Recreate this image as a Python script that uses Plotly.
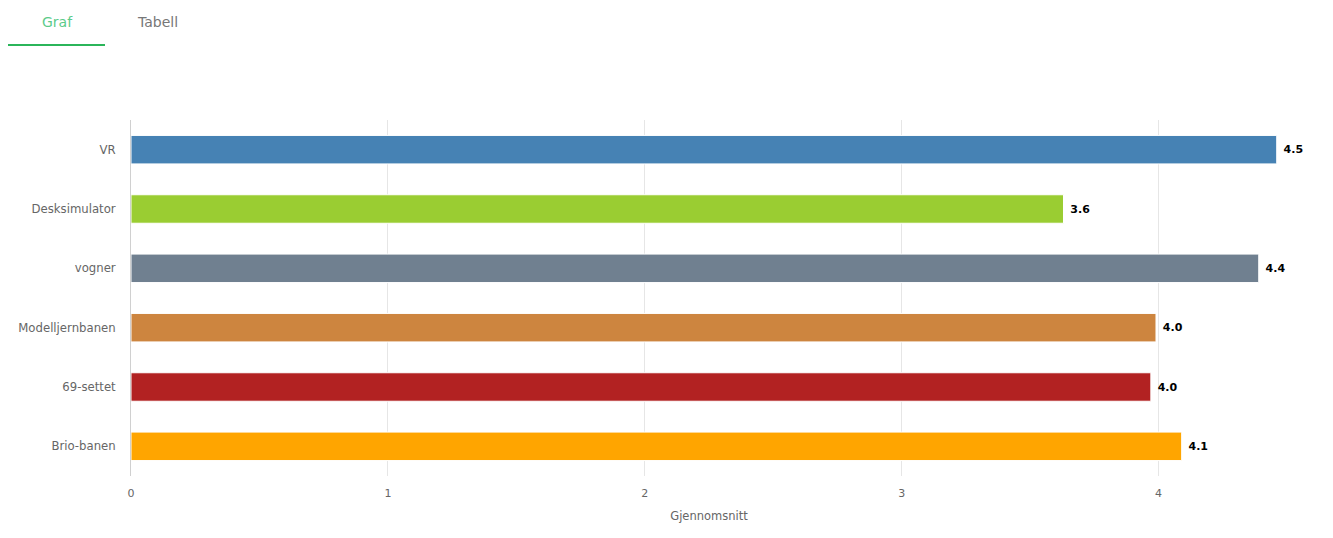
import plotly.graph_objects as go

categories = ["VR", "Desksimulator", "vogner", "Modelljernbanen", "69-settet", "Brio-banen"]
values = [4.46, 3.63, 4.39, 3.99, 3.97, 4.09]
colors = ["#4682b4", "#9acd32", "#708090", "#cd853f", "#b22222", "#ffa500"]
x_ticks = [0, 1, 2, 3, 4]
axis_title = "Gjennomsnitt"
tabs = ["Graf", "Tabell"]

FONT = "DejaVu Sans"

fig = go.Figure()
fig.add_trace(go.Bar(
    y=categories, x=values, orientation="h",
    marker=dict(color=colors, line=dict(color="white", width=1)),
    width=0.48,
    text=["\u00a0" + f"{v:.1f}" for v in values],
    textposition="outside",
    textfont=dict(family=FONT, size=11, color="#000000", weight="bold"),
    cliponaxis=False,
    hoverinfo="x+y",
))

# page offset of 8px (body margin) -> figure coords
W, H = 1317, 522
L, R, T, B = 123, 38, 112, 54
pw, ph = W - L - R, H - T - B

def px(x):
    return (x - 8 - L) / pw

def py(y):
    return (H - B - (y - 8)) / ph

fig.update_layout(
    width=W, height=H,
    margin=dict(l=L, r=R, t=T, b=B, autoexpand=False),
    plot_bgcolor="white", paper_bgcolor="white",
    showlegend=False,
    font=dict(family=FONT, size=11, color="#666666"),
    xaxis=dict(
        range=[0, 4.5], tickvals=x_ticks, ticktext=[str(t) for t in x_ticks],
        showgrid=True, gridcolor="#e6e6e6", gridwidth=1,
        zeroline=False, showline=False, automargin=False,
        ticks="outside", ticklen=7, tickcolor="rgba(0,0,0,0)",
        tickfont=dict(family=FONT, size=11, color="#666666"),
        title=dict(text=axis_title, font=dict(family=FONT, size=11.5, color="#666666"), standoff=12),
    ),
    yaxis=dict(
        categoryorder="array", categoryarray=categories, autorange="reversed",
        showgrid=False, zeroline=False, automargin=False,
        showline=True, linecolor="#d0d0d0", linewidth=1,
        ticks="", ticklabelstandoff=12,
        tickfont=dict(family=FONT, size=11.7, color="#666666"),
    ),
    bargap=0.52,
)

fig.add_annotation(text=tabs[0], x=px(57), y=py(22), xref="paper", yref="paper",
                   showarrow=False, xanchor="center", yanchor="middle",
                   font=dict(family=FONT, size=14, color="#5ccb8a"))
fig.add_annotation(text=tabs[1], x=px(157), y=py(22), xref="paper", yref="paper",
                   showarrow=False, xanchor="center", yanchor="middle",
                   font=dict(family=FONT, size=14, color="#777777"))
fig.add_shape(type="line", xref="paper", yref="paper",
              x0=px(8), x1=px(105), y0=py(45), y1=py(45),
              line=dict(color="#2bb55a", width=2))

fig.write_html("out.html")
